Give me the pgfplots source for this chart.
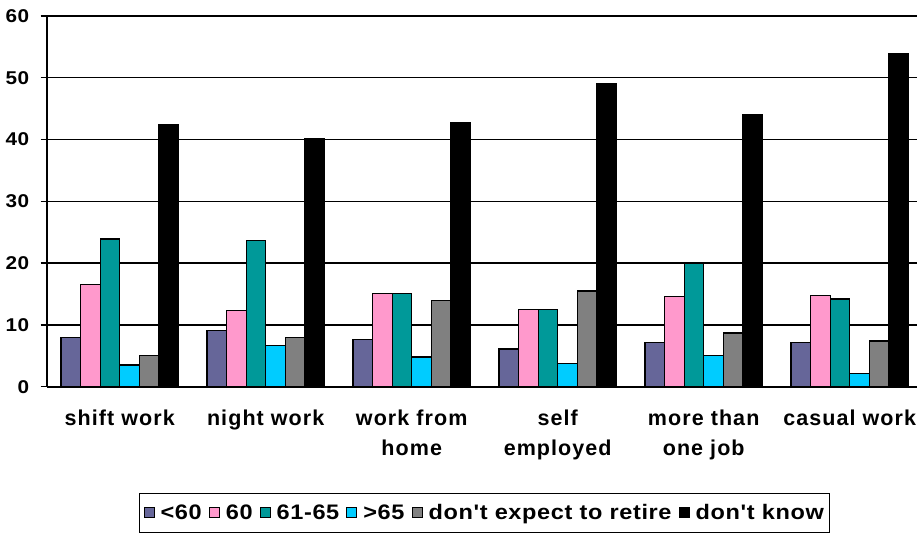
\documentclass[border=0pt]{standalone}
\usepackage{fontspec}
\setmainfont{Liberation Sans}[LetterSpace=5]
\newfontfamily\widefont{Liberation Sans}[FakeStretch=1.12,LetterSpace=3]
\usepackage{pgfplots}
\pgfplotsset{compat=1.18}

\definecolor{cLow}{HTML}{666699}
\definecolor{cSixty}{HTML}{FF99CC}
\definecolor{cMid}{HTML}{009999}
\definecolor{cHigh}{HTML}{00CCFF}
\definecolor{cNever}{HTML}{808080}
\definecolor{cUnknown}{HTML}{000000}

\begin{document}
\begin{tikzpicture}
\begin{axis}[
  at={(46.7bp,148.3bp)}, anchor=south west,
  scale only axis, width=876bp, height=370.7bp,
  xmin=-0.5, xmax=5.5, ymin=0, ymax=60,
  ybar=0pt, bar width=0.134,
  axis x line*=bottom, axis y line*=left,
  axis line style={black, line width=1.6bp},
  ytick={0,10,...,60},
  ymajorgrids, grid style={black, line width=1.4bp},
  tick align=outside, major tick length=6bp,
  y tick style={black, line width=1.3bp},
  major x tick style={draw=none},
  xtick={0,...,5},
  xticklabels={shift work, night work, {work from\\home}, {self\\employed}, {more than\\one job}, casual work},
  xticklabel style={font=\fontsize{21.5bp}{30bp}\selectfont\bfseries, align=center, yshift=-14bp},
  yticklabel style={font=\widefont\fontsize{18.5bp}{20bp}\selectfont\bfseries, xshift=-8bp},
  /pgf/number format/assume math mode=true,
  every axis plot/.append style={draw=black, line width=1.2bp},
  legend columns=-1,
  legend style={at={(0.5,-0.3407)}, anchor=center, draw=black, line width=1.3bp,
    font=\widefont\fontsize{21bp}{22bp}\selectfont\bfseries,
    inner xsep=4bp, inner ysep=9bp,
    /tikz/every even column/.append style={column sep=5bp}},
  legend image code/.code={\draw[#1, line width=0.9bp] (0bp,-4bp) rectangle (10bp,6bp);
    \path (14bp,0bp);},
]
\addplot[fill=cLow] coordinates {(0,8.0) (1,9.1) (2,7.7) (3,6.1) (4,7.1) (5,7.1)};
\addplot[fill=cSixty] coordinates {(0,16.5) (1,12.3) (2,15.1) (3,12.5) (4,14.6) (5,14.8)};
\addplot[fill=cMid] coordinates {(0,23.9) (1,23.6) (2,15.1) (3,12.5) (4,20.0) (5,14.2)};
\addplot[fill=cHigh] coordinates {(0,3.5) (1,6.7) (2,4.8) (3,3.8) (4,5.1) (5,2.2)};
\addplot[fill=cNever] coordinates {(0,5.1) (1,8.0) (2,13.9) (3,15.5) (4,8.7) (5,7.4)};
\addplot[fill=cUnknown] coordinates {(0,42.5) (1,40.2) (2,42.8) (3,49.0) (4,44.1) (5,53.9)};
\legend{<60, 60, 61-65, >65, don't expect to retire, don't know}
% top border of the plot area and the category separators
\draw[black, line width=2bp] (rel axis cs:0,1) -- (rel axis cs:1,1);
\draw[black, line width=1.3bp] (axis cs:0.5,0) -- ([yshift=-6bp]axis cs:0.5,0);
\draw[black, line width=1.3bp] (axis cs:1.5,0) -- ([yshift=-6bp]axis cs:1.5,0);
\draw[black, line width=1.3bp] (axis cs:2.5,0) -- ([yshift=-6bp]axis cs:2.5,0);
\draw[black, line width=1.3bp] (axis cs:3.5,0) -- ([yshift=-6bp]axis cs:3.5,0);
\draw[black, line width=1.3bp] (axis cs:4.5,0) -- ([yshift=-6bp]axis cs:4.5,0);
\end{axis}
\pgfresetboundingbox
\useasboundingbox (0,0) rectangle (917bp,535bp);
\end{tikzpicture}
\end{document}
